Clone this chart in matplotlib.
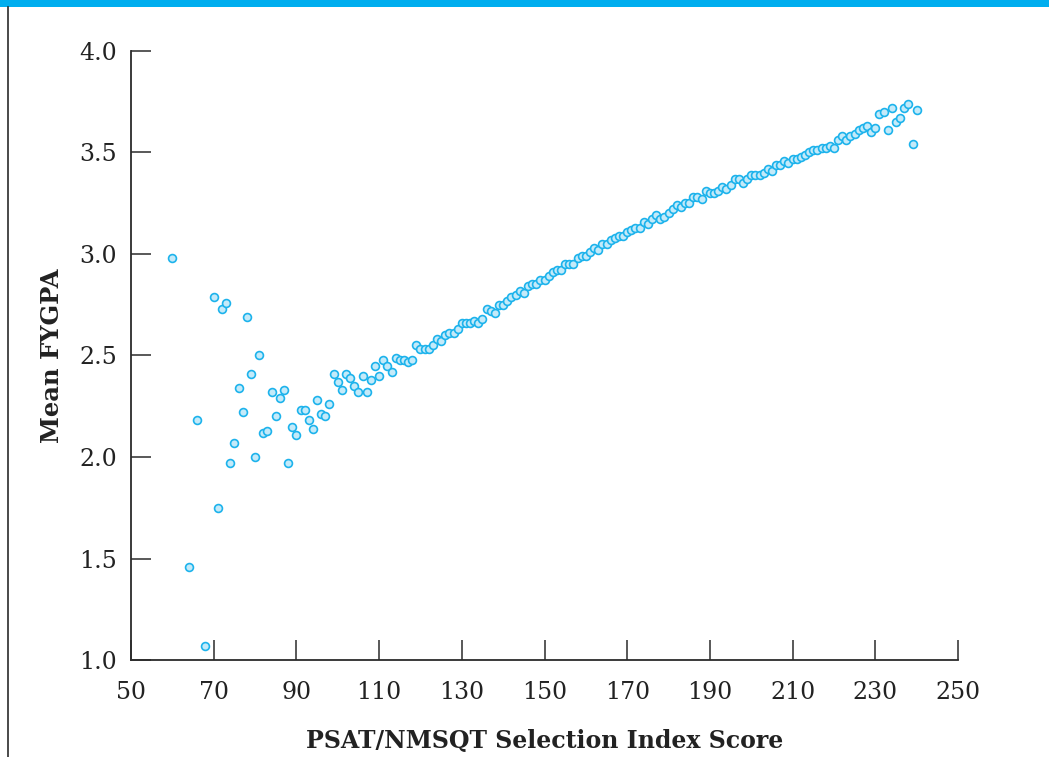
import matplotlib
matplotlib.use("Agg")
import matplotlib.pyplot as plt
from matplotlib.lines import Line2D
from matplotlib.patches import Rectangle

# PSAT/NMSQT selection index score vs mean first-year GPA
scores = [60, 64, 66, 68] + list(range(70, 241))
fygpa = [
    2.98, 1.46, 2.18, 1.07,
    # 70-79
    2.79, 1.75, 2.73, 2.76, 1.97, 2.07, 2.34, 2.22, 2.69, 2.41,
    # 80-89
    2.00, 2.50, 2.12, 2.13, 2.32, 2.20, 2.29, 2.33, 1.97, 2.15,
    # 90-99
    2.11, 2.23, 2.23, 2.18, 2.14, 2.28, 2.21, 2.20, 2.26, 2.41,
    # 100-109
    2.37, 2.33, 2.41, 2.39, 2.35, 2.32, 2.40, 2.32, 2.38, 2.45,
    # 110-119
    2.40, 2.48, 2.45, 2.42, 2.49, 2.48, 2.48, 2.47, 2.48, 2.55,
    # 120-129
    2.53, 2.53, 2.53, 2.55, 2.58, 2.57, 2.60, 2.61, 2.61, 2.63,
    # 130-139
    2.66, 2.66, 2.66, 2.67, 2.66, 2.68, 2.73, 2.72, 2.71, 2.75,
    # 140-149
    2.75, 2.77, 2.79, 2.80, 2.82, 2.81, 2.84, 2.85, 2.85, 2.87,
    # 150-159
    2.87, 2.89, 2.91, 2.92, 2.92, 2.95, 2.95, 2.95, 2.98, 2.99,
    # 160-169
    2.99, 3.01, 3.03, 3.02, 3.05, 3.05, 3.07, 3.08, 3.09, 3.09,
    # 170-179
    3.11, 3.12, 3.13, 3.13, 3.16, 3.15, 3.17, 3.19, 3.17, 3.18,
    # 180-189
    3.20, 3.22, 3.24, 3.23, 3.25, 3.25, 3.28, 3.28, 3.27, 3.31,
    # 190-199
    3.30, 3.30, 3.31, 3.33, 3.32, 3.34, 3.37, 3.37, 3.35, 3.37,
    # 200-209
    3.39, 3.39, 3.39, 3.40, 3.42, 3.41, 3.44, 3.44, 3.46, 3.45,
    # 210-219
    3.47, 3.47, 3.48, 3.49, 3.50, 3.51, 3.51, 3.52, 3.52, 3.53,
    # 220-229
    3.52, 3.56, 3.58, 3.56, 3.58, 3.59, 3.61, 3.62, 3.63, 3.60,
    # 230-240
    3.62, 3.69, 3.70, 3.61, 3.72, 3.65, 3.67, 3.72, 3.74, 3.54, 3.71,
]

x_ticks = list(range(50, 251, 20))
y_ticks = [1.0, 1.5, 2.0, 2.5, 3.0, 3.5, 4.0]

blue = "#00AEEF"
edge = "#1DB3EC"
face = "#C4EAF9"
dark = "#2b2b2b"

fig = plt.figure(figsize=(10.49, 7.57), dpi=100)

# top blue band and left rule
fig.patches.append(Rectangle((0, 1 - 7 / 757), 1, 7 / 757, transform=fig.transFigure,
                             facecolor=blue, edgecolor="none"))
fig.lines.append(Line2D([7.5 / 1049, 7.5 / 1049], [0, 1 - 7 / 757], transform=fig.transFigure,
                        color=dark, lw=1.2))

ax = fig.add_axes([131 / 1049, 97 / 757, (958 - 131) / 1049, (660 - 51) / 757])
ax.scatter(scores, fygpa, s=32, facecolor=face, edgecolor=edge, linewidth=1.2, zorder=3,
           clip_on=False)

ax.set_xlim(50, 250)
ax.set_ylim(1.0, 4.0)
ax.set_xticks(x_ticks)
ax.set_yticks(y_ticks)
ax.set_yticklabels([f"{v:.1f}" for v in y_ticks])

for s in ["top", "right"]:
    ax.spines[s].set_visible(False)
for s in ["left", "bottom"]:
    ax.spines[s].set_color(dark)
    ax.spines[s].set_linewidth(1.3)

ax.tick_params(direction="in", length=14.5, width=1.1, color=dark, labelsize=17,
               labelcolor="#222222")
ax.tick_params(axis="x", pad=15)
ax.tick_params(axis="y", pad=10)
for lab in ax.get_xticklabels() + ax.get_yticklabels():
    lab.set_family("DejaVu Serif")

ax.set_xlabel("PSAT/NMSQT Selection Index Score", family="DejaVu Serif", fontweight="bold",
              fontsize=17, color="#222222", labelpad=18)
ax.set_ylabel("Mean FYGPA", family="DejaVu Serif", fontweight="bold", fontsize=17.5,
              color="#222222", labelpad=11)

fig.savefig("out.png", dpi=100)
